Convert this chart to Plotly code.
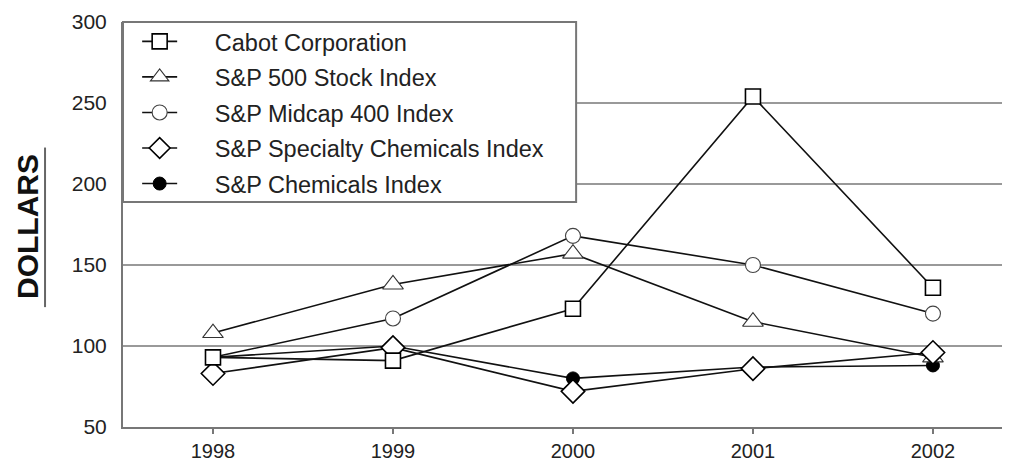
import plotly.graph_objects as go

years = [1998, 1999, 2000, 2001, 2002]
cabot = [93, 91, 123, 254, 136]
sp500 = [108, 138, 157, 115, 93]
midcap = [93, 117, 168, 150, 120]
specialty = [83, 99, 72, 86, 96]
chemicals = [93, 100, 80, 87, 88]

names = ["Cabot Corporation", "S&P 500 Stock Index", "S&P Midcap 400 Index",
         "S&P Specialty Chemicals Index", "S&P Chemicals Index"]

y_ticks = [50, 100, 150, 200, 250, 300]
grid_vals = [100, 150, 200, 250]

FONT = "Liberation Sans, Arial, Helvetica, sans-serif"
pad = "\u00a0" * 5

fig = go.Figure()

def add(yv, name, symbol, size, fill, lcol, lw, rank):
    fig.add_trace(go.Scatter(
        x=years, y=yv, name=pad + name, mode="lines+markers",
        line=dict(color="#111111", width=1.6),
        marker=dict(symbol=symbol, size=size, color=fill,
                    line=dict(color=lcol, width=lw)),
        legendrank=rank, legendgroup=name,
    ))

# drawing order (bottom to top)
add(chemicals, names[4], "circle", 13, "#000000", "#000000", 1, 5)
add(sp500, names[1], "triangle-up", 18, "#ffffff", "#333333", 1.1, 2)
add(midcap, names[2], "circle", 15, "#ffffff", "#444444", 1.1, 3)
add(specialty, names[3], "diamond", 18, "#ffffff", "#000000", 1.6, 4)
add(cabot, names[0], "square", 15, "#ffffff", "#000000", 1.6, 1)

shapes = []
for g in grid_vals:
    shapes.append(dict(type="line", xref="paper", yref="y", x0=0, x1=1, y0=g, y1=g,
                       line=dict(color="#777777", width=1.5), layer="below"))
# legend box
shapes.append(dict(type="rect", xref="paper", yref="paper", x0=0, x1=0.512, y0=0.5556, y1=1,
                   line=dict(color="#777777", width=2), fillcolor="#ffffff", layer="below"))
# underline of the axis title
shapes.append(dict(type="line", xref="paper", yref="paper", x0=-0.0881, x1=-0.0881,
                   y0=0.296, y1=0.69, line=dict(color="#666666", width=2)))

fig.update_layout(
    width=1002, height=454,
    margin=dict(l=115, r=2, t=14, b=35),
    paper_bgcolor="#ffffff", plot_bgcolor="#ffffff",
    font=dict(family=FONT, size=22, color="#222222"),
    showlegend=True,
    legend=dict(x=0.016, y=1.006, xanchor="left", yanchor="top",
                bgcolor="rgba(0,0,0,0)", borderwidth=0,
                font=dict(family=FONT, size=23.5, color="#222222"),
                traceorder="grouped", tracegroupgap=2, itemwidth=35),
    shapes=shapes,
    annotations=[dict(text="<b>DOLLARS</b>", xref="paper", yref="paper",
                      x=-0.1073, y=0.494, xanchor="center", yanchor="middle",
                      textangle=-90, showarrow=False,
                      font=dict(family=FONT, size=30, color="#111111"))],
)

fig.update_xaxes(range=[1997.5, 2002.417], tickvals=years, showgrid=False, zeroline=False,
                 automargin=False,
                 showline=True, linecolor="#777777", linewidth=2,
                 ticks="outside", ticklen=5, tickcolor="#777777", tickwidth=1.5,
                 tickfont=dict(family=FONT, size=20, color="#222222"))
fig.update_yaxes(range=[50, 300], tickvals=y_ticks, showgrid=False, zeroline=False,
                 automargin=False,
                 showline=True, linecolor="#777777", linewidth=2,
                 ticks="", ticklabelstandoff=10,
                 tickfont=dict(family=FONT, size=21, color="#222222"))

fig.write_html("out.html")
